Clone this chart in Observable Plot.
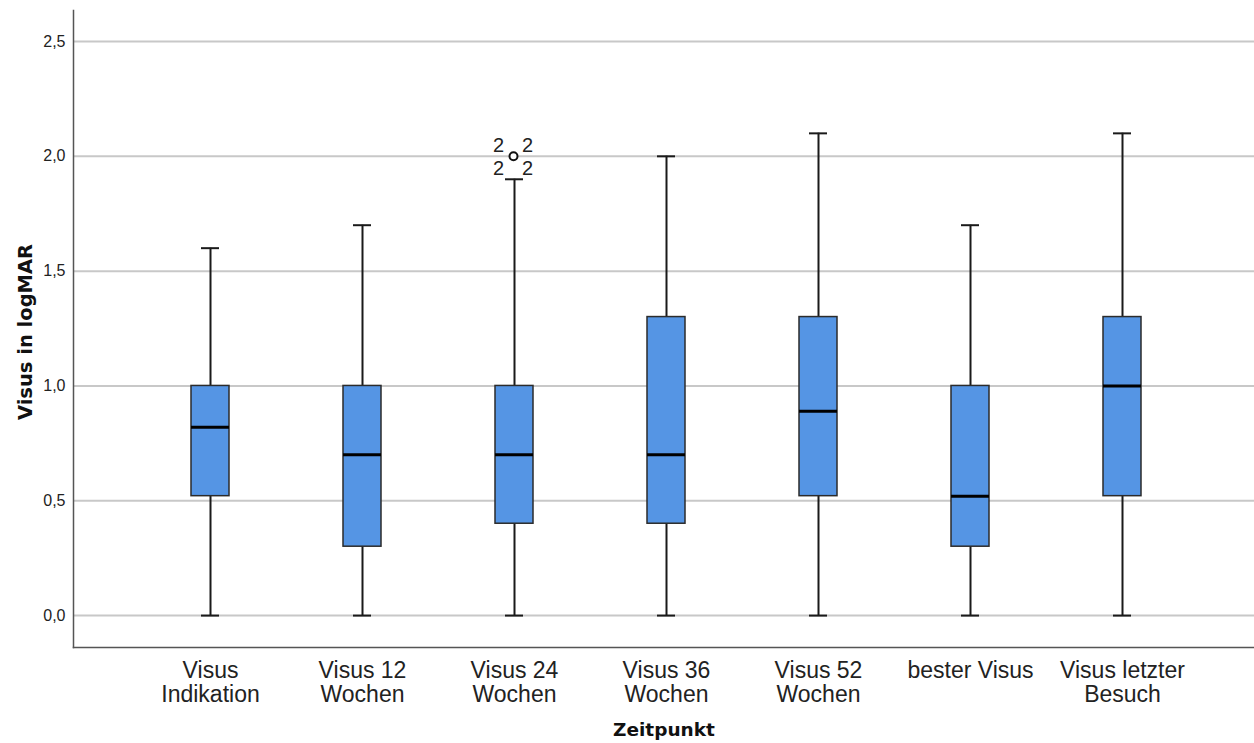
<!DOCTYPE html>
<html><head><meta charset="utf-8">
<script src="https://cdn.jsdelivr.net/npm/d3@7"></script>
<script src="https://cdn.jsdelivr.net/npm/@observablehq/plot@0.6"></script>
<style>body{margin:0;background:#fff}</style>
</head><body><div id="chart"></div>
<script>
const categories = ["Visus\nIndikation","Visus 12\nWochen","Visus 24\nWochen","Visus 36\nWochen","Visus 52\nWochen","bester Visus","Visus letzter\nBesuch"];
const whiskerLow = [0, 0, 0, 0, 0, 0, 0];
const q1 = [0.52, 0.30, 0.40, 0.40, 0.52, 0.30, 0.52];
const median = [0.82, 0.70, 0.70, 0.70, 0.89, 0.52, 1.00];
const q3 = [1.00, 1.00, 1.00, 1.30, 1.30, 1.00, 1.30];
const whiskerHigh = [1.60, 1.70, 1.90, 2.00, 2.10, 1.70, 2.10];
const outlierCat = ["Visus 24\nWochen"];
const outlierValue = [2.0];
const outlierLabels = ["2", "2", "2", "2"];
const yTicks = [0, 0.5, 1.0, 1.5, 2.0, 2.5];
const yLabel = "Visus in logMAR";
const xLabel = "Zeitpunkt";

const rows = categories.map((c, i) => ({cat: c, low: whiskerLow[i], q1: q1[i], med: median[i], q3: q3[i], high: whiskerHigh[i]}));
const outliers = outlierCat.map((c, i) => ({cat: c, value: outlierValue[i]}));
const outLab = outlierLabels.map((t, i) => ({cat: outlierCat[0], value: outlierValue[0], t, k: i}));

const boldFont = "DejaVu Sans, sans-serif";
const chart = Plot.plot({
  width: 1254, height: 743,
  marginLeft: 73, marginRight: 0, marginTop: 10, marginBottom: 96,
  style: {fontFamily: "Liberation Sans, Arial, sans-serif", fontSize: "16px", color: "#222", background: "#fff"},
  x: {type: "band", domain: categories, range: [190, 1142], paddingInner: 0.747, paddingOuter: 0},
  y: {domain: [-0.139, 2.635]},
  marks: [
    Plot.gridY(yTicks, {stroke: "#c8c8c8", strokeOpacity: 1, strokeWidth: 2}),
    Plot.frame({anchor: "left", stroke: "#555", strokeWidth: 1.5}),
    Plot.frame({anchor: "bottom", stroke: "#555", strokeWidth: 1.5}),
    Plot.axisY(yTicks, {tickSize: 0, tickPadding: 8, fontSize: 16, label: null, tickFormat: d => d.toFixed(1).replace(".", ",")}),
    Plot.axisX({tickSize: 0, tickPadding: 13, fontSize: 23, lineHeight: 1.05, label: null}),
    Plot.ruleX(rows, {x: "cat", y1: "low", y2: "high", stroke: "#1a1a1a", strokeWidth: 2}),
    Plot.tickY(rows, {x: "cat", y: "low", insetLeft: 10, insetRight: 10, stroke: "#1a1a1a", strokeWidth: 2}),
    Plot.tickY(rows, {x: "cat", y: "high", insetLeft: 10, insetRight: 10, stroke: "#1a1a1a", strokeWidth: 2}),
    Plot.barY(rows, {x: "cat", y1: "q1", y2: "q3", fill: "#5595e4", stroke: "#2b2b2b", strokeWidth: 1.5}),
    Plot.tickY(rows, {x: "cat", y: "med", stroke: "#000", strokeWidth: 3}),
    Plot.dot(outliers, {x: "cat", y: "value", r: 4, stroke: "#111", strokeWidth: 2, fill: "#fff", dx: -1}),
    Plot.text(outLab.filter(d => d.k === 0), {x: "cat", y: "value", text: "t", dx: -16, dy: -11, fontSize: 20, fill: "#222"}),
    Plot.text(outLab.filter(d => d.k === 1), {x: "cat", y: "value", text: "t", dx: 13, dy: -11, fontSize: 20, fill: "#222"}),
    Plot.text(outLab.filter(d => d.k === 2), {x: "cat", y: "value", text: "t", dx: -16, dy: 12, fontSize: 20, fill: "#222"}),
    Plot.text(outLab.filter(d => d.k === 3), {x: "cat", y: "value", text: "t", dx: 13, dy: 12, fontSize: 20, fill: "#222"}),
    Plot.text([yLabel], {frameAnchor: "left", textAnchor: "middle", rotate: -90, dx: -48, dy: 3, fontWeight: "bold", fontSize: 19.5, fontFamily: boldFont, fill: "#111"}),
    Plot.text([xLabel], {frameAnchor: "bottom", textAnchor: "middle", dy: 88, fontWeight: "bold", fontSize: 18.5, fontFamily: boldFont, fill: "#111"})
  ]
});
document.getElementById("chart").appendChild(chart);
</script>
</body></html>
